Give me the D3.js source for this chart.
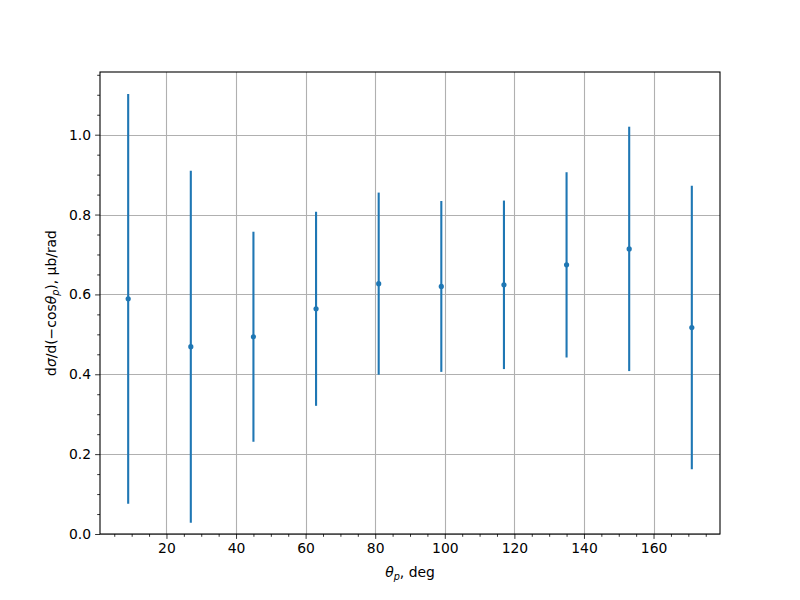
<!DOCTYPE html>
<html><head><meta charset="utf-8">
<script src="https://cdn.jsdelivr.net/npm/d3@7"></script>
<style>body{margin:0;background:#fff}text{font-family:"DejaVu Sans",sans-serif}</style>
</head><body><svg id="c" width="800" height="600"></svg>
<script>
const angles = [9, 27, 45, 63, 81, 99, 117, 135, 153, 171];
const values = [0.589, 0.469, 0.494, 0.564, 0.627, 0.620, 0.624, 0.674, 0.714, 0.517];
const errors = [0.513, 0.441, 0.263, 0.243, 0.228, 0.214, 0.211, 0.232, 0.306, 0.355];
const xTicks = [20, 40, 60, 80, 100, 120, 140, 160];
const yTicks = [0.0, 0.2, 0.4, 0.6, 0.8, 1.0];

const svg = d3.select("#c");
const L = 100, R = 720, T = 72, B = 534;
const x = d3.scaleLinear().domain([0.9, 179.1]).range([L, R]);
const y = d3.scaleLinear().domain([0, 1.157]).range([B, T]);
const col = "#1f77b4";

// grid
const g = svg.append("g");
g.selectAll(".gx").data(xTicks).join("line")
  .attr("x1", d => Math.round(x(d)) + 0.5).attr("x2", d => Math.round(x(d)) + 0.5)
  .attr("y1", T).attr("y2", B).attr("stroke", "#b0b0b0").attr("stroke-width", 1.1);
g.selectAll(".gy").data(yTicks).join("line")
  .attr("y1", d => Math.round(y(d)) + 0.5).attr("y2", d => Math.round(y(d)) + 0.5)
  .attr("x1", L).attr("x2", R).attr("stroke", "#b0b0b0").attr("stroke-width", 1.1);

// error bars
svg.append("g").selectAll("line").data(angles).join("line")
  .attr("x1", d => x(d)).attr("x2", d => x(d))
  .attr("y1", (d, i) => y(values[i] - errors[i])).attr("y2", (d, i) => y(values[i] + errors[i]))
  .attr("stroke", col).attr("stroke-width", 2.1);
svg.append("g").selectAll("circle").data(angles).join("circle")
  .attr("cx", d => x(d)).attr("cy", (d, i) => y(values[i])).attr("r", 2.6).attr("fill", col);

// axes
const xAxis = d3.axisBottom(x).tickValues(xTicks).tickSize(4.9).tickPadding(4).tickFormat(d3.format("d"));
const yAxis = d3.axisLeft(y).tickValues(yTicks).tickSize(4.9).tickPadding(4).tickFormat(d3.format(".1f"));
const xMinor = d3.range(5, 180, 5).filter(v => v % 20 !== 0);
const yMinor = d3.range(0.05, 1.151, 0.05).filter(v => Math.abs(v * 5 - Math.round(v * 5)) > 1e-6);
const gx = svg.append("g").attr("transform", `translate(0,${B})`).call(xAxis);
const gy = svg.append("g").attr("transform", `translate(${L},0)`).call(yAxis);
svg.append("g").attr("transform", `translate(0,${B})`)
  .call(d3.axisBottom(x).tickValues(xMinor).tickSize(2.8).tickFormat(""));
svg.append("g").attr("transform", `translate(${L},0)`)
  .call(d3.axisLeft(y).tickValues(yMinor).tickSize(2.8).tickFormat(""));
svg.selectAll(".domain").remove();
svg.selectAll(".tick line").attr("stroke", "#000").attr("stroke-width", 0.8);
[gx, gy].forEach(a => a.selectAll("text").attr("font-size", "13.9px").attr("fill", "#000")
  .style("font-family", "'DejaVu Sans', sans-serif"));

// frame
svg.append("rect").attr("x", L).attr("y", T).attr("width", R - L).attr("height", B - T)
  .attr("fill", "none").attr("stroke", "#000").attr("stroke-width", 1.1);

// labels
const xl = svg.append("text").attr("x", (L + R) / 2).attr("y", 577).attr("text-anchor", "middle")
  .attr("font-size", "13.9px");
xl.append("tspan").attr("font-style", "italic").text("θ");
xl.append("tspan").attr("font-style", "italic").attr("font-size", "9.7px").attr("dy", 3).text("p");
xl.append("tspan").attr("dy", -3).text(", deg");

const yl = svg.append("text").attr("transform", `translate(56,${(T + B) / 2}) rotate(-90)`)
  .attr("text-anchor", "middle").attr("font-size", "13.9px");
yl.append("tspan").text("d");
yl.append("tspan").attr("font-style", "italic").text("σ");
yl.append("tspan").text("/d(−cos");
yl.append("tspan").attr("font-style", "italic").text("θ");
yl.append("tspan").attr("font-style", "italic").attr("font-size", "9.7px").attr("dy", 3).text("p");
yl.append("tspan").attr("dy", -3).text("), μb/rad");
</script></body></html>
